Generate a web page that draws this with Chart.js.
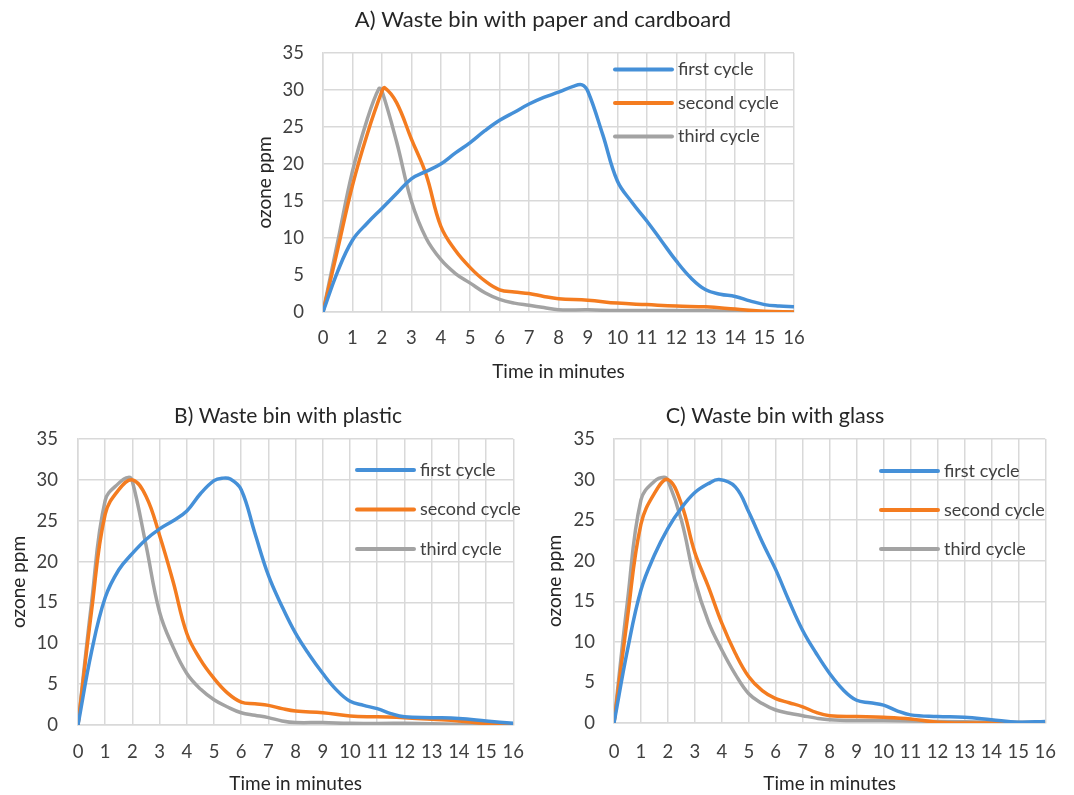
<!DOCTYPE html>
<html><head><meta charset="utf-8">
<script src="https://cdn.jsdelivr.net/npm/chart.js@4.4.0/dist/chart.umd.min.js"></script>
<style>
html,body{margin:0;padding:0;background:#fff;}
body{width:1074px;height:795px;position:relative;overflow:hidden;}
.box{position:absolute;}
canvas{display:block;}
</style></head><body>
<div class="box" style="left:250px;top:0px;"><canvas id="cA" width="570" height="390"></canvas></div>
<div class="box" style="left:0px;top:395px;"><canvas id="cB" width="540" height="400"></canvas></div>
<div class="box" style="left:540px;top:395px;"><canvas id="cC" width="534" height="400"></canvas></div>
<script>
// ---------- DATA ----------
const seriesNames = ['first cycle', 'second cycle', 'third cycle'];
const xTickLabels = ['0','1','2','3','4','5','6','7','8','9','10','11','12','13','14','15','16'];
const yTickLabels = ['0','5','10','15','20','25','30','35'];
const chartTitles = ['A) Waste bin with paper and cardboard', 'B) Waste bin with plastic', 'C) Waste bin with glass'];
const xAxisTitle = 'Time in minutes';
const yAxisTitle = 'ozone ppm';

// A) paper and cardboard
const aFirstT  = [0,0.5,1,1.5,2,2.5,3,3.5,4,4.5,5,5.5,6,6.5,7,7.5,8,8.5,8.8,9,9.5,10,10.5,11,11.5,12,12.5,13,13.5,14,14.5,15,15.5,16];
const aFirstV  = [0,5.5,9.7,12,14,16,18,19,20,21.5,22.9,24.5,25.9,27,28.1,29,29.7,30.5,30.7,29.8,24,17.7,14.8,12.3,9.6,6.9,4.6,3.0,2.4,2.1,1.5,1.0,0.8,0.7];
const aSecondT = [0,0.5,1,1.5,2,2.1,2.5,3,3.5,4,4.5,5,5.5,6,6.5,7,7.5,8,9,10,11,12,13,14,15,16];
const aSecondV = [0,8.5,17.1,24,29.8,30.3,28.3,23.4,18.6,11.6,8.3,6.0,4.2,3.0,2.7,2.5,2.1,1.8,1.6,1.2,1.0,0.8,0.7,0.4,0.1,0];
const aThirdT  = [0,0.5,1,1.5,1.9,2,2.5,3,3.5,4,4.5,5,5.5,6,6.5,7,7.5,8,9,10,12,14,16];
const aThirdV  = [0,9.5,19,26,30.2,29.9,23,15,10,7.1,5.2,3.9,2.6,1.7,1.2,0.9,0.6,0.3,0.3,0.2,0.2,0.1,0];

// B) plastic
const bFirstT  = [0,0.5,1,1.5,2,2.5,3,3.5,4,4.5,5,5.3,5.6,6,6.5,7,7.5,8,8.5,9,9.5,10,10.5,11,11.5,12,13,14,15,16];
const bFirstV  = [0,9,15.6,19,21,22.7,24,25,26.2,28.3,29.9,30.2,30.1,28.8,23.5,18.3,14.5,11.2,8.6,6.3,4.3,2.9,2.4,2.0,1.4,1.0,0.9,0.8,0.5,0.2];
const bSecondT = [0,0.5,1,1.5,2,2.5,3,3.5,4,4.5,5,5.5,6,6.5,7,7.5,8,9,10,11,12,13,14,15,16];
const bSecondV = [0,14,25.8,28.8,30,28,23.2,17.5,11.2,8,5.7,3.9,2.8,2.6,2.4,2.0,1.7,1.5,1.1,1.0,0.9,0.7,0.5,0.2,0];
const bThirdT  = [0,0.5,1,1.5,1.85,2,2.5,3,3.5,4,4.5,5,5.5,6,6.5,7,7.5,8,9,10,12,14,16];
const bThirdV  = [0,15,27.5,29.6,30.3,29.8,22,13.8,9.5,6.3,4.4,3.1,2.2,1.5,1.2,0.9,0.5,0.3,0.3,0.2,0.2,0.1,0.05];

// C) glass
const cFirstT  = [0,0.5,1,1.5,2,2.5,3,3.5,3.9,4.5,5,5.5,6,6.5,7,7.5,8,8.5,9,9.5,10,10.5,11,12,13,14,15,16];
const cFirstV  = [0,9,16.4,20.7,24,26.5,28.4,29.5,30,29.1,26,22.3,18.9,15,11.4,8.6,6.1,4.1,2.8,2.5,2.2,1.5,1.0,0.8,0.7,0.4,0.1,0.2];
const cSecondT = [0,0.5,1,1.5,2,2.5,3,3.5,4,4.5,5,5.5,6,6.5,7,7.5,8,9,10,11,12,13,16];
const cSecondV = [0,13,24.5,28.3,30,27,21,16.8,12.3,8.6,5.7,4,3.0,2.5,2.0,1.3,0.9,0.8,0.7,0.5,0.1,0,0];
const cThirdT  = [0,0.5,1,1.5,1.85,2,2.5,3,3.5,4,4.5,5,5.5,6,6.5,7,7.5,8,9,10,12,14,16];
const cThirdV  = [0,15,27.5,29.8,30.3,29.9,25,17.6,12.5,9,6,3.6,2.4,1.6,1.2,0.9,0.6,0.4,0.3,0.3,0.2,0.1,0.1];

// ---------- STYLE ----------
const FONT = "Lato, 'Open Sans', sans-serif";
const COLORS = ['#4590d8', '#f47c20', '#a3a3a3'];
const GRID = '#d9d9d9';
const TEXT = '#404040';

const overlay = {
  id: 'overlay',
  afterDatasetsDraw(chart, args, o) {
    const ctx = chart.ctx;
    ctx.save();
    ctx.fillStyle = '#262626';
    ctx.font = o.titleSize + 'px ' + FONT;
    ctx.textAlign = 'center';
    ctx.textBaseline = 'middle';
    ctx.fillText(o.title, o.titleX, o.titleY);
    chart.data.datasets.forEach((ds, i) => {
      const y = o.legY + i * o.legGap;
      ctx.strokeStyle = ds.borderColor;
      ctx.lineWidth = 4;
      ctx.lineCap = 'round';
      ctx.beginPath();
      ctx.moveTo(o.legX, y);
      ctx.lineTo(o.legX + o.legLen, y);
      ctx.stroke();
      ctx.fillStyle = TEXT;
      ctx.textAlign = 'left';
      ctx.font = o.legSize + 'px ' + FONT;
      ctx.fillText(ds.label, o.legX + o.legLen + o.legTextGap, y);
    });
    ctx.restore();
  }
};

function toPoints(ts, vs) { return ts.map((t, i) => ({ x: t, y: vs[i] })); }

function makeChart(id, series, L) {
  const datasets = series.map((s, i) => ({
    label: seriesNames[i],
    data: toPoints(s[0], s[1]),
    borderColor: COLORS[i],
    backgroundColor: COLORS[i],
    borderWidth: 3.5,
    pointRadius: 0,
    tension: 0.4,
    fill: false
  }));
  return new Chart(document.getElementById(id), {
    type: 'line',
    data: { datasets },
    plugins: [overlay],
    options: {
      responsive: false,
      animation: false,
      events: [],
      layout: { padding: { top: L.top, right: L.right, bottom: 0, left: 0 } },
      plugins: {
        legend: { display: false },
        title: { display: false },
        tooltip: { enabled: false },
        overlay: L.overlay
      },
      scales: {
        x: {
          type: 'linear', min: 0, max: 16,
          afterFit: s => { s.height = L.xH; },
          ticks: { stepSize: 1, autoSkip: false, maxRotation: 0, padding: L.xTickPad, color: TEXT,
                   font: { family: FONT, size: 18.5 },
                   callback: v => xTickLabels[v] },
          grid: { color: GRID, lineWidth: 1.5, drawTicks: false },
          border: { color: GRID, width: 1.5 },
          title: { display: true, text: xAxisTitle, color: '#262626', font: { family: FONT, size: 19 },
                   padding: { top: 0, bottom: L.xTitlePad } }
        },
        y: {
          type: 'linear', min: 0, max: 35,
          afterFit: s => { s.width = L.yW; },
          ticks: { stepSize: 5, padding: L.yTickPad, color: TEXT, font: { family: FONT, size: 18.5 },
                   callback: v => yTickLabels[v / 5] },
          grid: { color: GRID, lineWidth: 1.5, drawTicks: false },
          border: { color: GRID, width: 1.5 },
          title: { display: true, text: yAxisTitle, color: '#262626', font: { family: FONT, size: 19 },
                   padding: { top: L.yTitlePad, bottom: 0 } }
        }
      }
    }
  });
}

makeChart('cA', [[aFirstT, aFirstV], [aSecondT, aSecondV], [aThirdT, aThirdV]], {
  top: 53, right: 26, xH: 78, yW: 73, xTickPad: 15, yTickPad: 19, xTitlePad: 7, yTitlePad: 3,
  overlay: { title: chartTitles[0], titleX: 293, titleY: 20, titleSize: 22,
             legX: 365, legY: 69.5, legGap: 33.5, legLen: 57, legTextGap: 6, legSize: 18 }
});
makeChart('cB', [[bFirstT, bFirstV], [bSecondT, bSecondV], [bThirdT, bThirdV]], {
  top: 44, right: 12, xH: 70, yW: 78, xTickPad: 16, yTickPad: 20, xTitlePad: 0, yTitlePad: 7,
  overlay: { title: chartTitles[1], titleX: 288, titleY: 21, titleSize: 21,
             legX: 357, legY: 75, legGap: 39.5, legLen: 57, legTextGap: 6, legSize: 18 }
});
makeChart('cC', [[cFirstT, cFirstV], [cSecondT, cSecondV], [cThirdT, cThirdV]], {
  top: 44, right: 10, xH: 72, yW: 74, xTickPad: 18, yTickPad: 19, xTitlePad: 0, yTitlePad: 3,
  overlay: { title: chartTitles[2], titleX: 235, titleY: 21, titleSize: 21.5,
             legX: 341, legY: 76, legGap: 39, legLen: 57, legTextGap: 6, legSize: 18 }
});
</script>
</body></html>
